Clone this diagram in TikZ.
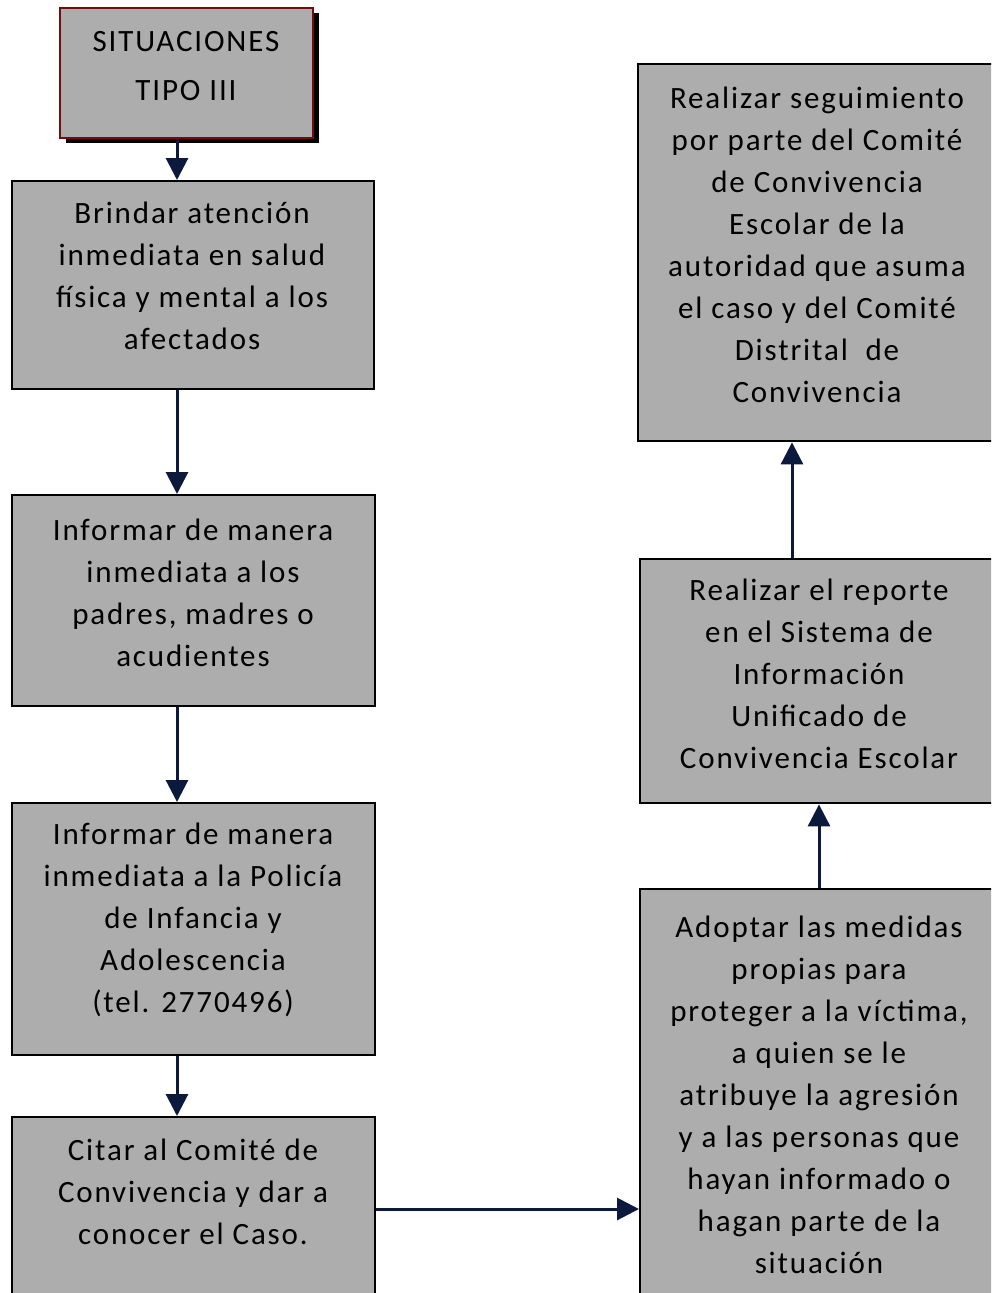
\documentclass[tikz,border=0pt]{standalone}
\usepackage{fontspec}
\setmainfont[LetterSpace=6]{Carlito}
\usetikzlibrary{arrows.meta,calc}
\definecolor{boxgray}{HTML}{ADADAD}
\definecolor{navy}{HTML}{0B1A3C}
\definecolor{darkred}{HTML}{7A0A0A}
\tikzset{
  box/.style={draw=black,line width=2.4pt,fill=boxgray,rectangle,anchor=north west,inner sep=0pt},
  txt/.style={align=center,font=\fontsize{31}{42}\selectfont,inner sep=0pt},
  arr/.style={draw=navy,line width=3pt,-{Triangle[width=22pt,length=22pt]}}
}
\begin{document}
\begin{tikzpicture}[x=1pt,y=-1pt]
\useasboundingbox (0,0) rectangle (991,1293);
\clip (0,0) rectangle (991,1293);
% top box with shadow
\fill[black] (66,13) rectangle (319,143);
\node[box,draw=darkred,line width=1.8pt,minimum width=253pt,minimum height=130pt] (top) at (59,7) {};
\node[txt,font=\fontsize{31}{49}\selectfont] (ttop) at (186,66) {SITUACIONES\\TIPO III};
% left column
\node[box,minimum width=362pt,minimum height=208pt] (b1) at (11,180) {};
\node[txt] (t1) at (192,276) {Brindar atención\\inmediata en salud\\física y mental a los\\afectados};
\node[box,minimum width=363pt,minimum height=211pt] (b2) at (11,494) {};
\node[txt] (t2) at (193,593) {Informar de manera\\inmediata a los\\padres, madres o\\acudientes};
\node[box,minimum width=363pt,minimum height=252pt] (b3) at (11,802) {};
\node[txt] (t3) at (193,920) {Informar de manera\\inmediata a la Policía\\de Infancia y\\Adolescencia\\(tel. 2770496)};
\node[box,minimum width=363pt,minimum height=200pt] (b4) at (11,1116) {};
\node[txt] (t4) at (193,1192) {Citar al Comité de\\Convivencia y dar a\\conocer el Caso.};
% right column
\node[box,minimum width=370pt,minimum height=420pt] (b5) at (639,888) {};
\node[txt] (t5) at (819,1095) {Adoptar las medidas\\propias para\\proteger a la víctima,\\a quien se le\\atribuye la agresión\\y a las personas que\\hayan informado o\\hagan parte de la\\situación};
\node[box,minimum width=370pt,minimum height=244pt] (b6) at (639,558) {};
\node[txt] (t6) at (819,674) {Realizar el reporte\\en el Sistema de\\Información\\Unificado de\\Convivencia Escolar};
\node[box,minimum width=372pt,minimum height=377pt] (b7) at (637,63) {};
\node[txt] (t7) at (817,245) {Realizar seguimiento\\por parte del Comité\\de Convivencia\\Escolar de la\\autoridad que asuma\\el caso y del Comité\\Distrital\ \ de\\Convivencia};
% connector guides
\coordinate (cl) at (177,0);
\coordinate (ra) at (0,1209);
\coordinate (cr1) at (819,0);
\coordinate (cr2) at (792,0);
% connectors
\draw[arr] (top.south -| cl) -- (b1.north -| cl);
\draw[arr] (b1.south -| cl) -- (b2.north -| cl);
\draw[arr] (b2.south -| cl) -- (b3.north -| cl);
\draw[arr] (b3.south -| cl) -- (b4.north -| cl);
\draw[arr] (b4.east |- ra) -- (b5.west |- ra);
\draw[arr] (b5.north -| cr1) -- (b6.south -| cr1);
\draw[arr] (b6.north -| cr2) -- (b7.south -| cr2);
\end{tikzpicture}
\end{document}
